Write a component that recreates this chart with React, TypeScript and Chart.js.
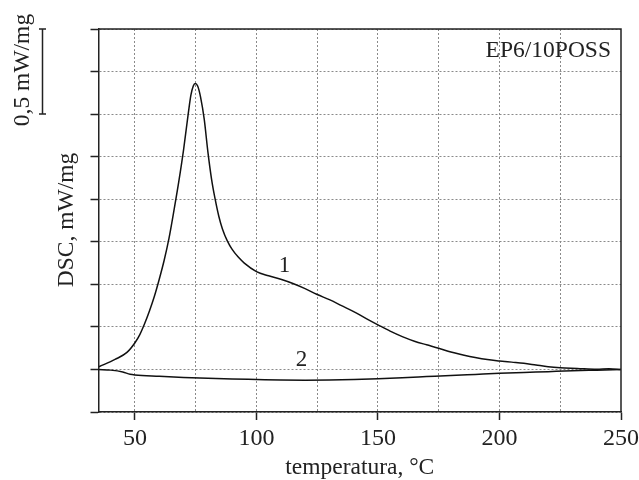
import React, { useEffect, useRef } from "react";
import { Chart, registerables } from "chart.js";

Chart.register(...registerables);

const curve1T = [35.2, 41.8, 46.7, 50, 52, 54, 56, 58, 60, 62, 64, 66, 68, 70, 72, 73, 74, 74.8, 75.8, 77, 78.5, 80, 81.5, 83, 84.5, 86, 88, 90, 92.5, 95, 100, 105, 110, 115, 120, 125, 130, 135, 140, 145, 150, 155, 160, 165, 170, 175, 180, 185, 190, 195, 200, 205, 210, 215, 220, 225, 232, 240, 245, 250];
const curve1V = [0.016, 0.059, 0.1, 0.157, 0.205, 0.27, 0.345, 0.43, 0.53, 0.64, 0.77, 0.93, 1.1, 1.29, 1.51, 1.61, 1.665, 1.68, 1.665, 1.6, 1.47, 1.28, 1.12, 1.0, 0.9, 0.825, 0.755, 0.705, 0.66, 0.625, 0.575, 0.55, 0.53, 0.505, 0.475, 0.44, 0.41, 0.375, 0.34, 0.3, 0.262, 0.225, 0.193, 0.166, 0.145, 0.125, 0.102, 0.085, 0.07, 0.058, 0.05, 0.043, 0.036, 0.026, 0.016, 0.01, 0.006, 0.001, 0.004, 0];

const curve2T = [35, 40, 45, 48, 50, 60, 70, 80, 90, 100, 110, 120, 130, 140, 150, 160, 170, 180, 190, 200, 210, 220, 230, 240, 250];
const curve2V = [0, -0.004, -0.015, -0.028, -0.032, -0.04, -0.047, -0.052, -0.056, -0.059, -0.062, -0.063, -0.062, -0.059, -0.055, -0.049, -0.042, -0.035, -0.029, -0.023, -0.018, -0.013, -0.008, -0.004, 0];

const xGridValues = [50, 75, 100, 125, 150, 175, 200, 225, 250];
const xLabelValues = [50, 100, 150, 200, 250];

const sampleName = "EP6/10POSS";
const curveLabels = [
  { text: "1", t: 111.5, v: 0.61 },
  { text: "2", t: 118.5, v: 0.053 },
];
const xTitle = "temperatura, °C";
const yTitle = "DSC, mW/mg";
const scaleBarLabel = "0,5 mW/mg";
const scaleBarValue = 0.5;

const FONT = "'Liberation Serif', 'Times New Roman', serif";

export default function App() {
  const ref = useRef<HTMLCanvasElement | null>(null);

  useEffect(() => {
    if (!ref.current) return;
    const overlay = {
      id: "overlay",
      afterDraw(chart: any) {
        const { ctx, chartArea, scales } = chart;
        const xs = scales.x;
        const ys = scales.y;
        ctx.save();
        ctx.strokeStyle = "#222";
        ctx.lineWidth = 1.5;
        ctx.setLineDash([]);
        ctx.beginPath();
        ctx.moveTo(chartArea.left, chartArea.top);
        ctx.lineTo(chartArea.right, chartArea.top);
        ctx.lineTo(chartArea.right, chartArea.bottom);
        ctx.stroke();
        ctx.fillStyle = "#222";
        ctx.font = `23.5px ${FONT}`;
        ctx.textAlign = "right";
        ctx.textBaseline = "alphabetic";
        ctx.fillText(sampleName, chartArea.right - 10, 57);
        ctx.textAlign = "center";
        ctx.textBaseline = "middle";
        ctx.font = `23px ${FONT}`;
        curveLabels.forEach((l) => {
          ctx.fillText(l.text, xs.getPixelForValue(l.t), ys.getPixelForValue(l.v));
        });
        ctx.font = `23.5px ${FONT}`;
        ctx.fillText(xTitle, (chartArea.left + chartArea.right) / 2, 468);
        ctx.save();
        ctx.translate(67, 220);
        ctx.rotate(-Math.PI / 2);
        ctx.fillText(yTitle, 0, 0);
        ctx.restore();
        const yTop = chartArea.top;
        const yBot = ys.getPixelForValue(ys.max - scaleBarValue);
        const bx = 42.5;
        ctx.lineWidth = 1.5;
        ctx.beginPath();
        ctx.moveTo(bx, yTop);
        ctx.lineTo(bx, yBot);
        ctx.moveTo(bx - 3.5, yTop);
        ctx.lineTo(bx + 3.5, yTop);
        ctx.moveTo(bx - 3.5, yBot);
        ctx.lineTo(bx + 3.5, yBot);
        ctx.stroke();
        ctx.save();
        ctx.translate(23, 70);
        ctx.rotate(-Math.PI / 2);
        ctx.fillText(scaleBarLabel, 0, 0);
        ctx.restore();
        ctx.restore();
      },
    };

    const chart = new Chart(ref.current, {
      type: "line",
      data: {
        datasets: [
          {
            data: curve1T.map((t, i) => ({ x: t, y: curve1V[i] })),
            borderColor: "#111",
            borderWidth: 1.5,
            pointRadius: 0,
            cubicInterpolationMode: "monotone",
          },
          {
            data: curve2T.map((t, i) => ({ x: t, y: curve2V[i] })),
            borderColor: "#111",
            borderWidth: 1.5,
            pointRadius: 0,
            cubicInterpolationMode: "monotone",
          },
        ],
      },
      options: {
        animation: false,
        responsive: false,
        layout: { padding: { top: 29, right: 18, left: 0, bottom: 0 } },
        plugins: { legend: { display: false }, tooltip: { enabled: false } },
        scales: {
          x: {
            type: "linear",
            min: 35,
            max: 250,
            afterBuildTicks: (scale: any) => {
              scale.ticks = xGridValues.map((v) => ({ value: v }));
            },
            afterFit: (scale: any) => {
              scale.height = 68;
              scale.paddingLeft = 0;
              scale.paddingRight = 0;
            },
            ticks: {
              autoSkip: false,
              maxRotation: 0,
              padding: 4,
              color: "#222",
              font: { family: FONT, size: 24 },
              callback: (v: any) => (xLabelValues.includes(Number(v)) ? String(v) : ""),
            },
            grid: {
              color: (ctx: any) => (ctx.tick && ctx.tick.value === 250 ? "rgba(0,0,0,0)" : "#8a8a8a"),
              lineWidth: 1,
              tickLength: 8,
              tickWidth: 1.5,
              tickColor: (ctx: any) =>
                ctx.tick && xLabelValues.includes(ctx.tick.value) ? "#222" : "rgba(0,0,0,0)",
              tickBorderDash: [],
            },
            border: { display: true, color: "#222", width: 1.5, dash: [2, 2] },
          },
          y: {
            type: "linear",
            min: -0.25,
            max: 2.0,
            afterBuildTicks: (scale: any) => {
              const arr = [];
              for (let i = 0; i <= 9; i++) arr.push({ value: -0.25 + i * 0.25 });
              scale.ticks = arr;
            },
            afterFit: (scale: any) => {
              scale.width = 98.5;
              scale.paddingTop = 0;
              scale.paddingBottom = 0;
            },
            ticks: { display: false },
            grid: {
              color: "#8a8a8a",
              lineWidth: 1,
              tickLength: 8,
              tickWidth: 1.5,
              tickColor: "#222",
              tickBorderDash: [],
            },
            border: { display: true, color: "#222", width: 1.5, dash: [2, 2] },
          },
        },
      },
      plugins: [overlay],
    } as any);
    return () => chart.destroy();
  }, []);

  return (
    <div style={{ position: "absolute", left: 0, top: 0, width: 639, height: 480, background: "#fff" }}>
      <canvas ref={ref} width={639} height={480} />
    </div>
  );
}
